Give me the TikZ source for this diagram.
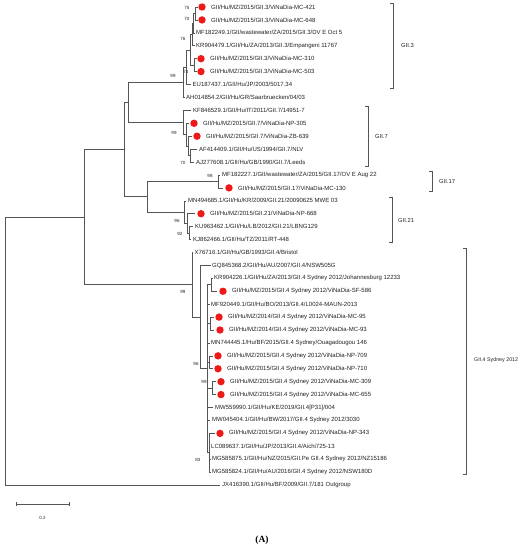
\documentclass[tikz,border=0pt]{standalone}
\usepackage{fontspec}
\setmainfont{Liberation Sans}
\newfontfamily\capfont{Liberation Serif}
\definecolor{ln}{HTML}{555555}
\definecolor{tx}{HTML}{222222}
\definecolor{rd}{HTML}{EE1A1A}
\newcommand\dleaf[5]{%
  \coordinate (#1) at (#2,#4);
  \node[rdot] (#1d) at (#3,#4) {};
  \node[lbl] (#1l) at (#3+9,#4) {#5};}
\newcommand\pleaf[5]{%
  \coordinate (#1) at (#2,#4);
  \node[lbl] (#1l) at (#3,#4) {#5};}
\begin{document}
\begin{tikzpicture}[x=1pt,y=-1pt,
  br/.style={draw=ln,line width=0.6pt},
  brk/.style={draw=ln,line width=0.6pt},
  lbl/.style={anchor=west,inner sep=0pt,font=\fontsize{6}{7}\selectfont,text=tx},
  bs/.style={inner sep=0pt,font=\fontsize{4.5}{5}\selectfont,text=tx},
  clade/.style={anchor=west,inner sep=0pt,font=\fontsize{5.8}{7}\selectfont,text=tx},
  rdot/.style={circle,fill=rd,inner sep=0pt,minimum size=7.4pt}]
\useasboundingbox (0,0) rectangle (521,550);
\fill[white] (0,0) rectangle (521,550);

% ---------- GII.3 ----------
\coordinate (a1) at (195,13.46);
\coordinate (a2) at (193,23.15);
\coordinate (a3) at (192,34.46);
\coordinate (a4) at (194,65.14);
\coordinate (a5) at (190,49.8);
\coordinate (a6) at (186,67.16);
\coordinate (a7) at (183,82.3);
\dleaf{L0}{198}{202}{7.0}{GII/Hu/MZ/2015/GII.3/ViNaDia-MC-421}
\dleaf{L1}{198}{202}{19.92}{GII/Hu/MZ/2015/GII.3/ViNaDia-MC-648}
\pleaf{L2}{195}{196}{32.84}{MF182249.1/GII/wastewater/ZA/2015/GII.3/DV E Oct 5}
\pleaf{L3}{195}{196}{45.76}{KR904479.1/GII/Hu/ZA/2013/GII.3/Empangeni 11767}
\dleaf{L4}{197}{201}{58.68}{GII/Hu/MZ/2015/GII.3/ViNaDia-MC-310}
\dleaf{L5}{197}{201}{71.6}{GII/Hu/MZ/2015/GII.3/ViNaDia-MC-503}
\pleaf{L6}{191}{192.5}{84.52}{EU187437.1/GII/Hu/JP/2003/5017.34}
\pleaf{L7}{185}{186}{97.44}{AH014854.2/GII/Hu/GR/Saarbruecken/04/03}
\draw[br] (a1) |- (L0) (a1) |- (L1) (a2) |- (a1) (a2) |- (L2)
  (a3) |- (a2) (a3) |- (L3) (a4) |- (L4) (a4) |- (L5)
  (a5) |- (a3) (a5) |- (a4) (a6) |- (a5) (a6) |- (L6)
  (a7) |- (a6) (a7) |- (L7);

% ---------- GII.7 ----------
\coordinate (b3) at (190,155.58);
\coordinate (b2) at (188,145.89);
\coordinate (b1) at (186,134.58);
\coordinate (b0) at (183,122.47);
\pleaf{L8}{191}{193}{110.36}{KF846529.1/GII/Hu/IT/2011/GII.7/14951-7}
\dleaf{L9}{189}{194}{123.28}{GII/Hu/MZ/2015/GII.7/ViNaDia-NP-305}
\dleaf{L10}{192}{197}{136.2}{GII/Hu/MZ/2015/GII.7/ViNaDia-ZB-639}
\pleaf{L11}{197}{199}{149.12}{AF414409.1/GII/Hu/US/1994/GII.7/NLV}
\pleaf{L12}{194}{196}{162.04}{AJ277608.1/GII/Hu/GB/1990/GII.7/Leeds}
\draw[br] (b3) |- (L11) (b3) |- (L12) (b2) |- (L10) (b2) |- (b3)
  (b1) |- (L9) (b1) |- (b2) (b0) |- (L8) (b0) |- (b1);

\coordinate (c1) at (128,102.4);
\draw[br] (c1) |- (a7) (c1) |- (b0);

% ---------- GII.17 ----------
\coordinate (d1) at (218,181.42);
\pleaf{L13}{220}{222}{174.96}{MF182227.1/GII/wastewater/ZA/2015/GII.17/OV E Aug 22}
\dleaf{L14}{223}{229}{187.88}{GII/Hu/MZ/2015/GII.17/ViNaDia-MC-130}
\draw[br] (d1) |- (L13) (d1) |- (L14);

% ---------- GII.21 ----------
\coordinate (e2) at (189,233.1);
\coordinate (e1) at (187,223.41);
\coordinate (e0) at (184,212.1);
\pleaf{L15}{186}{188}{200.8}{MN494685.1/GII/Hu/KR/2009/GII.21/20090625 MWE 03}
\dleaf{L16}{195}{201}{213.72}{GII/Hu/MZ/2015/GII.21/ViNaDia-NP-668}
\pleaf{L17}{193}{195}{226.64}{KU963462.1/GII/Hu/LB/2012/GII.21/LBNG129}
\pleaf{L18}{191}{193}{239.56}{KJ862466.1/GII/Hu/TZ/2011/RT-448}
\draw[br] (e2) |- (L17) (e2) |- (L18) (e1) |- (L16) (e1) |- (e2)
  (e0) |- (L15) (e0) |- (e1);

\coordinate (f1) at (147,196.76);
\coordinate (g1) at (124,149.58);
\draw[br] (f1) |- (d1) (f1) |- (e0) (g1) |- (c1) (g1) |- (f1);

% ---------- GII.4 ----------
\coordinate (hkr) at (211,284.78);
\coordinate (h95) at (210,323.54);
\coordinate (hnp) at (209,362.3);
\coordinate (h309) at (212,388.14);
\coordinate (htl) at (209,452.74);
\coordinate (hb) at (207,368.76);
\coordinate (ha) at (200,317.08);
\coordinate (h0) at (192,284.78);
\pleaf{L19}{193}{194.5}{252.48}{X76716.1/GII/Hu/GB/1993/GII.4/Bristol}
\pleaf{L20}{211}{212}{265.4}{GQ845368.2/GII/Hu/AU/2007/GII.4/NSW505G}
\pleaf{L21}{213}{214}{278.32}{KR904226.1/GII/Hu/ZA/2013/GII.4 Sydney 2012/Johannesburg 12233}
\dleaf{L22}{217}{223}{291.24}{GII/Hu/MZ/2015/GII.4 Sydney 2012/ViNaDia-SF-586}
\pleaf{L23}{210}{211}{304.16}{MF920449.1/GII/Hu/BO/2013/GII.4/L0024-MAUN-2013}
\dleaf{L24}{214}{219}{317.08}{GII/Hu/MZ/2014/GII.4 Sydney 2012/ViNaDia-MC-95}
\dleaf{L25}{214}{220}{330.0}{GII/Hu/MZ/2014/GII.4 Sydney 2012/ViNaDia-MC-93}
\pleaf{L26}{210}{211}{342.92}{MN744445.1/Hu/BF/2015/GII.4 Sydney/Ouagadougou 146}
\dleaf{L27}{213}{218}{355.84}{GII/Hu/MZ/2015/GII.4 Sydney 2012/ViNaDia-NP-709}
\dleaf{L28}{213}{218}{368.76}{GII/Hu/MZ/2015/GII.4 Sydney 2012/ViNaDia-NP-710}
\dleaf{L29}{216}{221}{381.68}{GII/Hu/MZ/2015/GII.4 Sydney 2012/ViNaDia-MC-309}
\dleaf{L30}{216}{221}{394.6}{GII/Hu/MZ/2015/GII.4 Sydney 2012/ViNaDia-MC-655}
\pleaf{L31}{213}{215}{407.52}{MW559990.1/GII/Hu/KE/2019/GII.4[P31]/004}
\pleaf{L32}{210}{212}{420.44}{MW045404.1/GII/Hu/BW/2017/GII.4 Sydney 2012/3030}
\dleaf{L33}{215}{220}{433.36}{GII/Hu/MZ/2015/GII.4 Sydney 2012/ViNaDia-NP-343}
\pleaf{L34}{210}{211}{446.28}{LC089637.1/GII/Hu/JP/2013/GII.4/Aichi725-13}
\pleaf{L35}{211}{212}{459.2}{MG585875.1/GII/Hu/NZ/2015/GII.Pe GII.4 Sydney 2012/NZ15186}
\pleaf{L36}{211}{212}{472.12}{MG585824.1/GII/Hu/AU/2016/GII.4 Sydney 2012/NSW180D}
\pleaf{L37}{220}{222}{485.04}{JX416390.1/GII/Hu/BF/2009/GII.7/181 Outgroup}
\draw[br] (hkr) |- (L21) (hkr) |- (L22) (h95) |- (L24) (h95) |- (L25)
  (hnp) |- (L27) (hnp) |- (L28) (h309) |- (L29) (h309) |- (L30)
  (htl) |- (L33) (htl) |- (L34) (htl) |- (L35) (htl) |- (L36)
  (hb) |- (hkr) (hb) |- (L23) (hb) |- (h95) (hb) |- (L26) (hb) |- (hnp)
  (hb) |- (h309) (hb) |- (L31) (hb) |- (L32) (hb) |- (htl)
  (ha) |- (L20) (ha) |- (hb) (h0) |- (L19) (h0) |- (ha);

\coordinate (i1) at (84,217.18);
\coordinate (root) at (5,351.11);
\draw[br] (i1) |- (g1) (i1) |- (h0) (root) |- (i1) (root) |- (L37);

% ---------- bootstrap values ----------
\node[bs] (v1) at (187,8) {75};
\node[bs] (v2) at (187,19) {70};
\node[bs] (v3) at (183,39) {76};
\node[bs] (v4) at (186,72) {74};
\node[bs] (v5) at (173,76) {99};
\node[bs] (v6) at (174,133) {99};
\node[bs] (v7) at (183,163) {70};
\node[bs] (v8) at (210,176) {98};
\node[bs] (v9) at (177,221) {96};
\node[bs] (v10) at (180,234) {92};
\node[bs] (v11) at (183,292) {99};
\node[bs] (v12) at (196,364) {96};
\node[bs] (v13) at (204,382) {99};
\node[bs] (v14) at (198,460) {83};

% ---------- clade brackets ----------
\draw[brk] (390,3.5) -- (393,3.5) -- (393,88.6) -- (390,88.6);
\node[clade] (k1) at (401,45.5) {GII.3};
\draw[brk] (365,106) -- (368,106) -- (368,166) -- (365,166);
\node[clade] (k2) at (375,136) {GII.7};
\draw[brk] (429,171.5) -- (432,171.5) -- (432,191.5) -- (429,191.5);
\node[clade] (k3) at (439,181) {GII.17};
\draw[brk] (389,197) -- (392,197) -- (392,242.6) -- (389,242.6);
\node[clade] (k4) at (398,220) {GII.21};
\draw[brk] (463,248.5) -- (466,248.5) -- (466,474) -- (463,474);
\node[clade,font=\fontsize{5.3}{6.5}\selectfont] (k5) at (474,360) {GII.4 Sydney 2012};

% ---------- scale bar ----------
\coordinate (sb1) at (16,504);
\coordinate (sb2) at (69,504);
\draw[br] (sb1) -- (sb2);
\draw[br] (16,502) -- (16,506) (69,502) -- (69,506);
\node[bs] (sbl) at (42.5,518) {0.2};

% ---------- panel label ----------
\node[inner sep=0pt,font=\capfont\bfseries\fontsize{9.5}{11}\selectfont] (pan) at (262,540) {(A)};
\end{tikzpicture}
\end{document}
